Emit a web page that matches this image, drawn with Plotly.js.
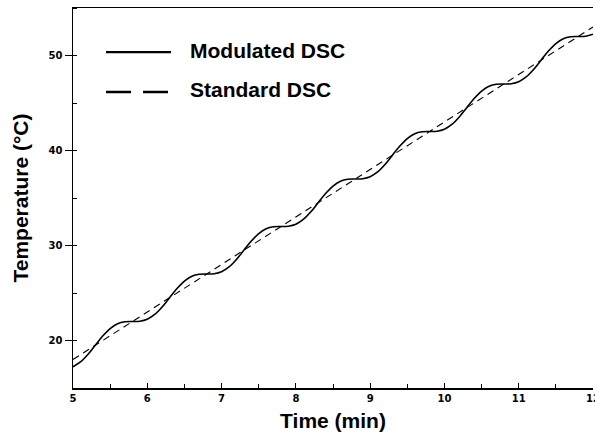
<!DOCTYPE html>
<html>
<head>
<meta charset="utf-8">
<script src="https://cdn.plot.ly/plotly-3.0.1.min.js"></script>
<style>html,body{margin:0;padding:0;background:#fff;}#chart{width:595px;height:437px;}</style>
</head>
<body>
<div id="chart"></div>
<script>
// Time (min)
const timeMod = [5.0,5.1,5.2,5.3,5.4,5.5,5.6,5.7,5.8,5.9,
  6.0,6.1,6.2,6.3,6.4,6.5,6.6,6.7,6.8,6.9,
  7.0,7.1,7.2,7.3,7.4,7.5,7.6,7.7,7.8,7.9,
  8.0,8.1,8.2,8.3,8.4,8.5,8.6,8.7,8.8,8.9,
  9.0,9.1,9.2,9.3,9.4,9.5,9.6,9.7,9.8,9.9,
  10.0,10.1,10.2,10.3,10.4,10.5,10.6,10.7,10.8,10.9,
  11.0,11.1,11.2,11.3,11.4,11.5,11.6,11.7,11.8,11.9,12.0];
// Modulated DSC temperature (°C)
const tempMod = [17.24,17.74,18.53,19.5,20.47,21.26,21.76,21.97,22.0,22.03,
  22.24,22.74,23.53,24.5,25.47,26.26,26.76,26.97,27.0,27.03,
  27.24,27.74,28.53,29.5,30.47,31.26,31.76,31.97,32.0,32.03,
  32.24,32.74,33.53,34.5,35.47,36.26,36.76,36.97,37.0,37.03,
  37.24,37.74,38.53,39.5,40.47,41.26,41.76,41.97,42.0,42.03,
  42.24,42.74,43.53,44.5,45.47,46.26,46.76,46.97,47.0,47.03,
  47.24,47.74,48.53,49.5,50.47,51.26,51.76,51.97,52.0,52.03,52.24];
// Standard DSC (linear ramp)
const timeStd = [5, 12];
const tempStd = [18.0, 53.0];

const seriesNames = ['Modulated DSC', 'Standard DSC'];
const xTicks = [5,6,7,8,9,10,11,12];
const yTicks = [20,30,40,50];

const tickFont = {family: 'DejaVu Sans', size: 10, color: '#000', weight: 'bold'};
const titleFont = {family: 'Liberation Sans, Arial', size: 21, color: '#000', weight: 'bold'};

const traces = [
  {x: timeMod, y: tempMod, name: seriesNames[0], mode: 'lines',
   line: {color: '#000', width: 1.6, shape: 'spline', smoothing: 1}, showlegend: false},
  {x: timeStd, y: tempStd, name: seriesNames[1], mode: 'lines',
   line: {color: '#000', width: 1.1, dash: '7px,5px'}, showlegend: false}
];

const layout = {
  width: 595, height: 437,
  margin: {l: 73, r: 2, t: 8, b: 49},
  paper_bgcolor: '#fff', plot_bgcolor: '#fff',
  showlegend: false,
  xaxis: {
    range: [5, 12], tickvals: xTicks, ticktext: xTicks.map(String),
    ticks: 'inside', ticklen: 5, tickwidth: 1, tickcolor: '#000',
    showline: true, linecolor: '#000', linewidth: 1.5, mirror: true,
    showgrid: false, zeroline: false, tickfont: tickFont,
    ticklabeloverflow: 'allow',
    minor: {dtick: 0.5, tick0: 5, ticks: 'inside', ticklen: 4, tickcolor: '#000', showgrid: false},
    automargin: 'bottom',
    title: {text: 'Time (min)', font: titleFont, standoff: 11}
  },
  yaxis: {
    range: [15, 55], tickvals: yTicks, ticktext: yTicks.map(String),
    ticks: 'outside', ticklen: 7, tickwidth: 1, tickcolor: '#000',
    showline: true, linecolor: '#000', linewidth: 1.5, mirror: false,
    showgrid: false, zeroline: false, tickfont: tickFont,
    minor: {dtick: 5, tick0: 15, ticks: 'inside', ticklen: 4, tickcolor: '#000', showgrid: false},
    automargin: 'left',
    title: {text: 'Temperature (°C)', font: titleFont, standoff: 14}
  },
  shapes: [
    {type: 'line', xref: 'paper', yref: 'paper', x0: 0.0635, x1: 0.1885, y0: 0.884, y1: 0.884,
     line: {color: '#000', width: 2.4}},
    {type: 'line', xref: 'paper', yref: 'paper', x0: 0.0635, x1: 0.1885, y0: 0.779, y1: 0.779,
     line: {color: '#000', width: 2.4, dash: '25px,12px'}}
  ],
  annotations: [
    {xref: 'paper', yref: 'paper', x: 0.221, y: 0.889, xanchor: 'left', yanchor: 'middle',
     text: seriesNames[0], showarrow: false, font: titleFont},
    {xref: 'paper', yref: 'paper', x: 0.221, y: 0.786, xanchor: 'left', yanchor: 'middle',
     text: seriesNames[1], showarrow: false, font: titleFont}
  ]
};

Plotly.newPlot('chart', traces, layout, {displayModeBar: false, staticPlot: true});
</script>
</body>
</html>
